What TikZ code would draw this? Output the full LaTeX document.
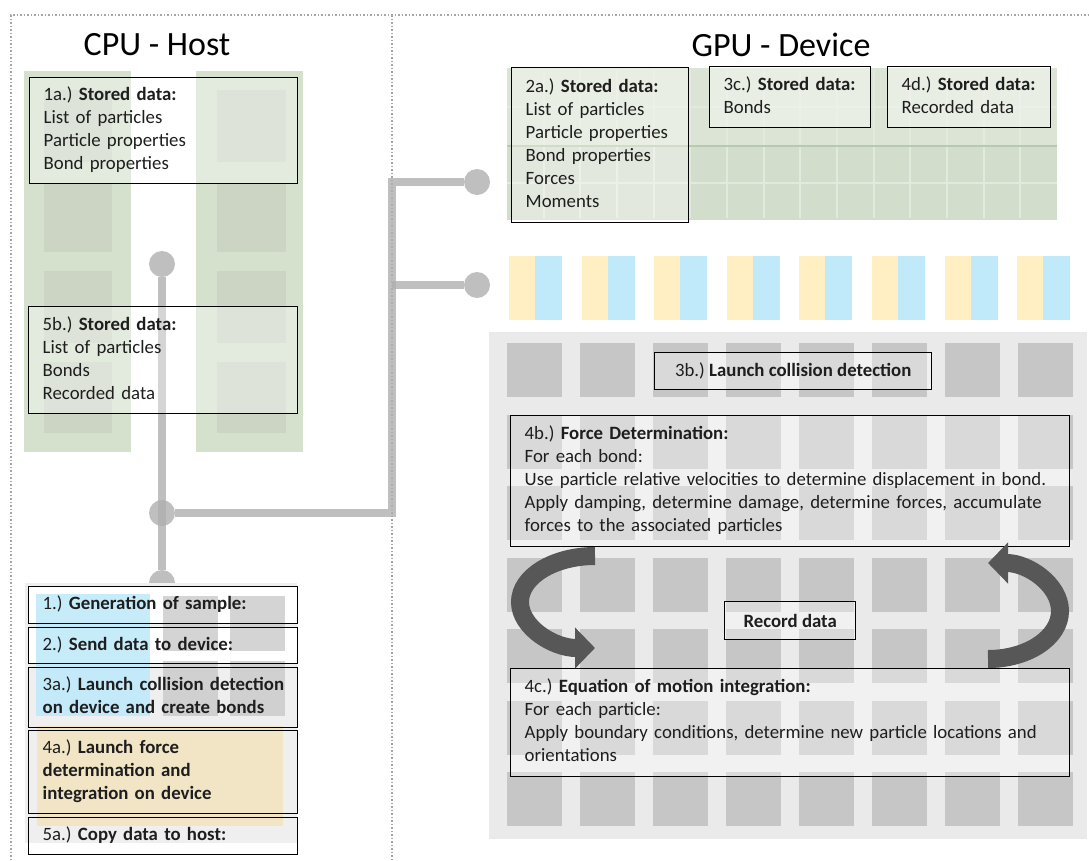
\documentclass[tikz,border=0pt]{standalone}
\usepackage{fontspec}
\setmainfont{Carlito}
\usetikzlibrary{arrows.meta}
\frenchspacing

\definecolor{frameGray}{HTML}{A6A6A6}
\definecolor{linkGray}{HTML}{BFBFBF}
\definecolor{linkGrayDark}{HTML}{AFAFAF}
\definecolor{cpuGreen}{HTML}{D5E0CD}
\definecolor{cpuCell}{HTML}{CCD5C4}
\definecolor{gridGreenA}{HTML}{DCE5D5}
\definecolor{gridGreenB}{HTML}{D3DDCB}
\definecolor{gridLine}{HTML}{E2E9DD}
\definecolor{gridDivider}{HTML}{B7CAAB}
\definecolor{panelGray}{HTML}{EAEAEA}
\definecolor{hostPanel}{HTML}{EFEFEF}
\definecolor{cellGray}{HTML}{C6C6C6}
\definecolor{warpYellow}{HTML}{FFEFC2}
\definecolor{warpBlue}{HTML}{C0E9F9}
\definecolor{stepTan}{HTML}{F3E5C2}
\definecolor{arrowGray}{HTML}{575757}
\definecolor{inkText}{HTML}{1E1E1E}

% left-aligned block of lines that never re-wraps
\newcommand{\textlines}[1]{\begin{tabular}{@{}l@{}}#1\end{tabular}}

\begin{document}
\begin{tikzpicture}[x=1pt,y=-1pt,
  bodyfont/.style={font=\fontsize{18.8}{23}\selectfont},
  infobox/.style={draw=black, line width=1.4pt, fill=white, fill opacity=0.35,
    text opacity=1, text=inkText, inner xsep=14pt, inner ysep=0pt,
    anchor=north west, align=left, bodyfont},
  stepframe/.style={draw=black, line width=1.4pt, text=inkText,
    inner xsep=14pt, inner ysep=0pt, anchor=north west, align=left, bodyfont},
  title/.style={font=\fontsize{34}{40}\selectfont, text=black, anchor=base},
  hub/.style={circle, fill=linkGray, minimum size=26pt, inner sep=0pt},
  link/.style={draw=linkGrayDark, draw opacity=0.8, line width=8pt},
  loop/.style={draw=arrowGray, line width=18pt, -{Triangle[length=20pt,width=40pt]}},
]
\useasboundingbox (0,0) rectangle (1089,860);

% ---- dotted frame and divider ----
\draw[frameGray, dotted, line width=1.5pt] (11,860) -- (11,15) -- (1089,15);
\draw[frameGray, dotted, line width=1.5pt] (392,15) -- (392,860);

% ---- titles ----
\node[title] (hostTitle) at (157,55) {CPU - Host};
\node[title] (devTitle) at (781,56) {GPU - Device};

% ---- host memory columns ----
\fill[cpuGreen] (24,71) rectangle (131,452);
\fill[cpuGreen] (196,71) rectangle (303,452);
\foreach \yy/\hh in {90/72,183/69,271/72,362/71} {
  \fill[cpuCell] (44,\yy) rectangle ++(68,\hh);
  \fill[cpuCell] (217,\yy) rectangle ++(69,\hh);
}

% ---- connectors between host and device ----
\node[hub] (c1) at (162,264) {};
\node[hub] (c2) at (162,513) {};
\node[hub] (c3) at (162,583) {};
\node[hub] (g1) at (477,182) {};
\node[hub] (g2) at (477,285) {};
\coordinate (j1) at (392,513);
\coordinate (j2) at (392,182);
\coordinate (j3) at (392,285);
\draw[link] (c1) -- (c3);
\draw[link] (c2) -- (j1) -- (j2) -- (g1);
\draw[link] (j3) -- (g2);

% ---- host stored data ----
\node[infobox, minimum width=268pt, minimum height=106pt, text width=240pt] (hostA) at (29,77)
  {\textlines{1a.) \textbf{Stored data:}\\List of particles\\Particle properties\\Bond properties}};
\node[infobox, minimum width=269pt, minimum height=107pt, text width=241pt] (hostB) at (28,306)
  {\textlines{5b.) \textbf{Stored data:}\\List of particles\\Bonds\\Recorded data}};

% ---- device global memory grid ----
\fill[gridGreenA] (507,68) rectangle (1057,145);
\fill[gridGreenB] (507,147) rectangle (1057,220);
\foreach \k in {1,...,14}
  \draw[gridLine, line width=2pt] ({507+36.67*\k},70) -- ({507+36.67*\k},218);
\draw[gridLine, line width=2pt] (507,107) -- (1057,107);
\draw[gridLine, line width=2pt] (507,183) -- (1057,183);
\draw[gridDivider, line width=2pt] (507,146) -- (1057,146);

\node[infobox, minimum width=177pt, minimum height=155pt, text width=149pt] (devA) at (511,67)
  {\textlines{2a.) \textbf{Stored data:}\\List of particles\\Particle properties\\Bond properties\\Forces\\Moments}};
\node[infobox, minimum width=161pt, minimum height=61pt, text width=133pt] (devC) at (709,66)
  {\textlines{3c.) \textbf{Stored data:}\\Bonds}};
\node[infobox, minimum width=163pt, minimum height=61pt, text width=135pt] (devD) at (887,66)
  {\textlines{4d.) \textbf{Stored data:}\\Recorded data}};

% ---- warps ----
\foreach \i in {0,...,7} {
  \fill[warpYellow] ({509+72.6*\i},256) rectangle ++(26,64);
  \fill[warpBlue] ({535+72.6*\i},256) rectangle ++(27,64);
}

% ---- device compute grid ----
\fill[panelGray] (489,332) rectangle (1087,839);
\foreach \i in {0,...,7}
  \foreach \j in {0,...,6}
    \fill[cellGray] ({507+73*\i},{343+71.5*\j}) rectangle ++(55,54);

\node[infobox, align=center, inner xsep=0pt, minimum width=277pt, minimum height=37pt] (collide) at (654,352)
  {3b.) \textbf{Launch collision detection}};
\node[infobox, minimum width=559pt, minimum height=131pt, text width=531pt] (force) at (510,415)
  {\textlines{4b.) \textbf{Force Determination:}\\For each bond:\\Use particle relative velocities to determine displacement in bond.\\Apply damping, determine damage, determine forces, accumulate\\forces to the associated particles}};
\node[infobox, align=center, inner xsep=0pt, minimum width=131pt, minimum height=38pt] (record) at (724,601)
  {\textbf{Record data}};
\node[infobox, minimum width=559pt, minimum height=108pt, text width=531pt] (motion) at (510,668)
  {\textlines{4c.) \textbf{Equation of motion integration:}\\For each particle:\\Apply boundary conditions, determine new particle locations and\\orientations}};

% ---- time-step loop arrows ----
\draw[loop] (595,556) arc[start angle=270, end angle=90, x radius=75, y radius=46];
\draw[loop] (988,659) arc[start angle=90, end angle=-90, x radius=72, y radius=48];

% ---- host program steps ----
\fill[hostPanel] (25,583) rectangle (297,843);
\fill[white] (28,586) rectangle (297,623);
\fill[white] (28,627) rectangle (297,663);
\fill[warpBlue, opacity=0.9] (36,594) rectangle (150,716);
\foreach \xx in {163,230}
  \foreach \yy in {596,661}
    \fill[cellGray, opacity=0.75] (\xx,\yy) rectangle ++(55,55);
\fill[stepTan, opacity=0.9] (37,726) rectangle (283,826);

\node[stepframe, minimum width=269pt, minimum height=37pt, text width=241pt] (s1) at (28,586)
  {\textlines{1.) \textbf{Generation of sample:}}};
\node[stepframe, minimum width=269pt, minimum height=36pt, text width=241pt] (s2) at (28,627)
  {\textlines{2.) \textbf{Send data to device:}}};
\node[stepframe, minimum width=269pt, minimum height=60pt, text width=241pt] (s3) at (28,667)
  {\textlines{3a.) \textbf{Launch collision detection}\\\textbf{on device and create bonds}}};
\node[stepframe, minimum width=269pt, minimum height=83pt, text width=241pt] (s4) at (28,730)
  {\textlines{4a.) \textbf{Launch force}\\\textbf{determination and}\\\textbf{integration on device}}};
\node[stepframe, minimum width=269pt, minimum height=37pt, text width=241pt] (s5) at (28,817)
  {\textlines{5a.) \textbf{Copy data to host:}}};
\end{tikzpicture}
\end{document}
